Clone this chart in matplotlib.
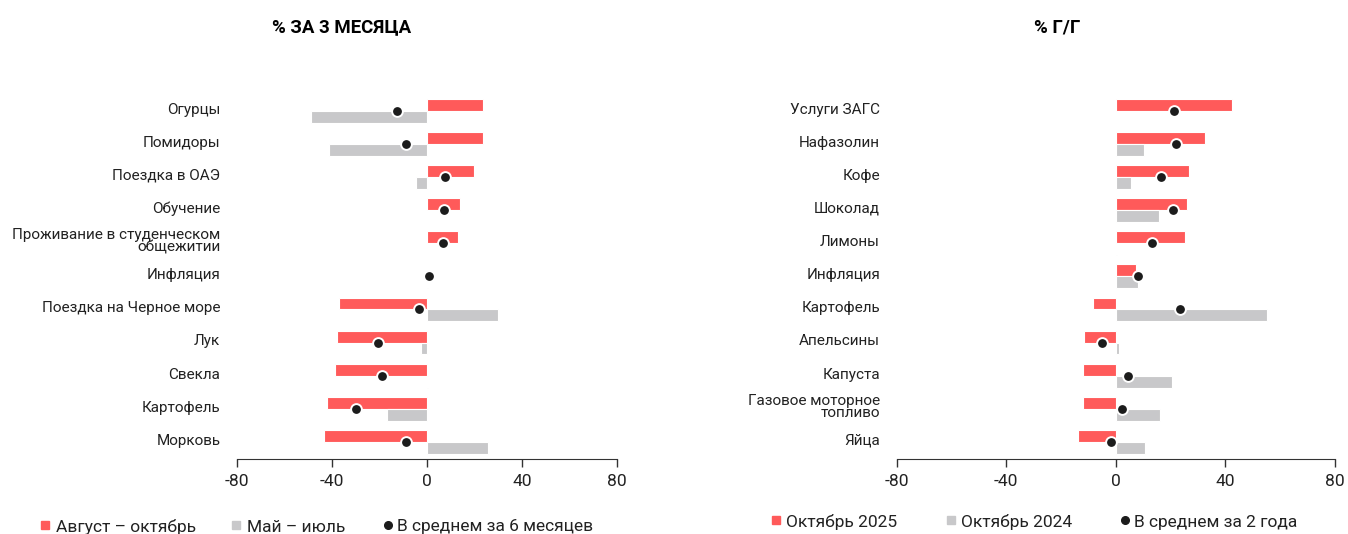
import numpy as np
import matplotlib
matplotlib.use("Agg")
import matplotlib.pyplot as plt
from matplotlib.lines import Line2D

plt.rcParams['font.family'] = ['Roboto', 'DejaVu Sans']

RED = '#FF5A5A'
GRAY = '#C8C8CA'
DOT = '#1c1c1c'

# left panel: % for 3 months
left_cats = ['Огурцы', 'Помидоры', 'Поездка в ОАЭ', 'Обучение',
             'Проживание в студенческом\nобщежитии', 'Инфляция',
             'Поездка на Черное море', 'Лук', 'Свекла', 'Картофель', 'Морковь']
left_aug_oct = [23.6, 23.6, 19.8, 13.9, 12.9, 0.0, -36.9, -37.8, -38.6, -42.3, -43.4]
left_may_jul = [-49.0, -41.1, -4.8, 0.0, 0.0, 0.3, 30.0, -2.4, 0.3, -16.8, 25.5]
left_avg6 = [-12.8, -9.0, 7.4, 7.1, 6.7, 0.8, -3.4, -20.5, -19.0, -30.0, -9.0]

# right panel: % y/y
right_cats = ['Услуги ЗАГС', 'Нафазолин', 'Кофе', 'Шоколад', 'Лимоны', 'Инфляция',
              'Картофель', 'Апельсины', 'Капуста', 'Газовое моторное\nтопливо', 'Яйца']
right_oct25 = [42.4, 32.7, 26.6, 26.0, 25.2, 7.3, -8.3, -11.7, -11.9, -12.0, -13.9]
right_oct24 = [0.0, 10.2, 5.5, 15.6, 0.3, 8.1, 55.1, 1.1, 20.5, 16.3, 10.5]
right_avg2 = [21.4, 21.8, 16.5, 21.0, 13.2, 8.0, 23.5, -5.2, 4.3, 2.1, -1.7]

xticks = [-80, -40, 0, 40, 80]

fig = plt.figure(figsize=(13.48, 5.34), dpi=100)
ax1 = fig.add_axes([0.1758, 0.1401, 0.2819, 0.6837])
ax2 = fig.add_axes([0.6652, 0.1401, 0.3251, 0.6837])


def draw(ax, cats, a, b, avg):
    y = np.arange(len(cats))
    h = 0.36
    ax.barh(y - h / 2, a, height=h, color=RED, edgecolor='white', linewidth=0.8)
    ax.barh(y + h / 2, b, height=h, color=GRAY, edgecolor='white', linewidth=0.8)
    ax.scatter(avg, y, s=60, color=DOT, edgecolor='white', linewidth=1.4, zorder=3)
    # labels sit a little above the row centre in the reference
    ax.set_yticks(y - 0.08)
    ax.set_yticklabels(cats, fontsize=11, linespacing=0.85)
    ax.set_ylim(len(cats) - 0.48, -0.5)
    ax.set_xlim(-80, 80)
    ax.set_xticks(xticks)
    ax.set_xticklabels([str(t) for t in xticks], fontsize=12.5)
    for s in ['top', 'right', 'left']:
        ax.spines[s].set_visible(False)
    ax.spines['bottom'].set_color('#333333')
    ax.tick_params(axis='y', length=0, pad=12, colors='#222222')
    ax.tick_params(axis='x', length=6, width=1, colors='#333333', labelcolor='#222222', pad=5)


draw(ax1, left_cats, left_aug_oct, left_may_jul, left_avg6)
draw(ax2, right_cats, right_oct25, right_oct24, right_avg2)

title_font = ['Liberation Sans Narrow', 'Roboto', 'DejaVu Sans']
fig.text(342 / 1348, 1 - 27 / 534, '% ЗА 3 МЕСЯЦА', ha='center', va='center',
         fontsize=13.4, fontweight='bold', family=title_font)
fig.text(1057 / 1348, 1 - 27 / 534, '% Г/Г', ha='center', va='center',
         fontsize=13.4, fontweight='bold', family=title_font)


def legend_row(items, ypix):
    # items: (marker x px, text x px, marker, colour, size, label)
    for mx, tx, mk, col, ms, label in items:
        fig.add_artist(Line2D([mx / 1348], [1 - (ypix - 2) / 534], marker=mk, color=col,
                              markersize=ms, linestyle='', transform=fig.transFigure))
        fig.text(tx / 1348, 1 - ypix / 534, label, ha='left', va='center',
                 fontsize=12.5, color='#222222')


legend_row([(45, 56, 's', RED, 6, 'Август – октябрь'),
            (236, 247, 's', GRAY, 6, 'Май – июль'),
            (388, 397, 'o', DOT, 5.5, 'В среднем за 6 месяцев')], 527)
legend_row([(776, 786, 's', RED, 6, 'Октябрь 2025'),
            (951, 961, 's', GRAY, 6, 'Октябрь 2024'),
            (1125, 1134, 'o', DOT, 5.5, 'В среднем за 2 года')], 522)

fig.savefig('out.png', dpi=100)
